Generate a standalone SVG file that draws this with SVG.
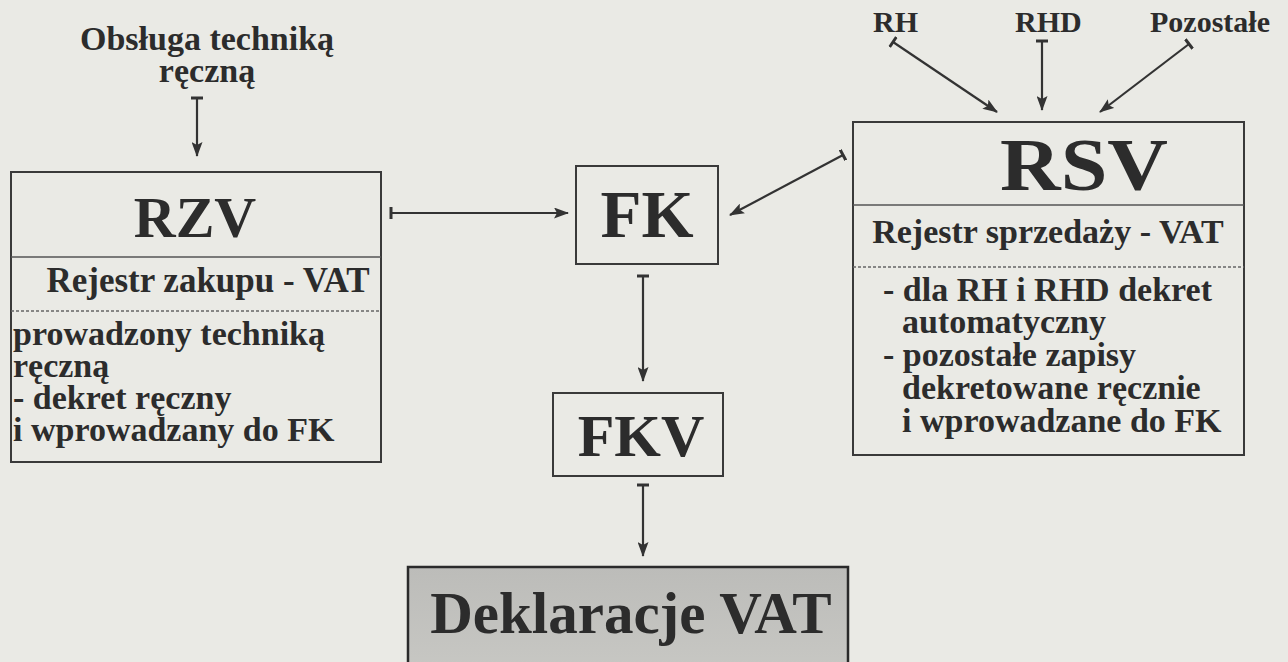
<svg xmlns="http://www.w3.org/2000/svg" width="1288" height="662" viewBox="0 0 1288 662">
<defs>
<marker id="ah" viewBox="0 0 15 11" refX="14" refY="5.5" markerWidth="15" markerHeight="11" markerUnits="userSpaceOnUse" orient="auto">
<path d="M0,0 L15,5.5 L0,11 L3,5.5 Z" fill="#333"/>
</marker>
<marker id="tk" viewBox="0 0 4 12" refX="2" refY="6" markerWidth="4" markerHeight="12" markerUnits="userSpaceOnUse" orient="auto">
<rect x="0.5" y="0" width="3" height="12" fill="#333"/>
</marker>
<linearGradient id="gd" x1="0" y1="0" x2="0" y2="1">
<stop offset="0" stop-color="#bcbcb9"/>
<stop offset="1" stop-color="#c8c8c4"/>
</linearGradient>
</defs>
<style>
text{font-family:"Liberation Serif","Times New Roman",serif;font-weight:bold;fill:#2c2c2c}
.box{fill:none;stroke:#3a3a3a;stroke-width:2}
.div{stroke:#555;stroke-width:1.5}
.dash{stroke:#666;stroke-width:1.5;stroke-dasharray:3 2}
.con{stroke:#333;stroke-width:2.2;fill:none;marker-start:url(#tk);marker-end:url(#ah)}
.t1{font-size:34px}
.top{font-size:30px}
.mid{text-anchor:middle}
</style>
<rect width="1288" height="662" fill="#eaeae5"/>

<g id="src-manual">
<text class="t1 mid" x="207" y="50">Obsługa techniką</text>
<text class="t1 mid" x="207" y="82">ręczną</text>
</g>
<g id="src-rh"><text class="top" x="873" y="32">RH</text></g>
<g id="src-rhd"><text class="top" x="1015" y="32">RHD</text></g>
<g id="src-poz"><text class="top" x="1150" y="32">Pozostałe</text></g>

<g id="rzv">
<rect class="box" x="11" y="172" width="370" height="290"/>
<line class="div" x1="11" y1="257" x2="381" y2="257"/>
<line class="dash" x1="11" y1="311" x2="381" y2="311"/>
<text class="mid" x="195" y="237" style="font-size:58px">RZV</text>
<text class="mid" x="208" y="292" style="font-size:35px">Rejestr zakupu - VAT</text>
<text class="t1" x="13" y="345">prowadzony techniką</text>
<text class="t1" x="13" y="377">ręczną</text>
<text class="t1" x="13" y="409">- dekret ręczny</text>
<text class="t1" x="13" y="441">i wprowadzany do FK</text>
</g>

<g id="fk">
<rect class="box" x="576" y="166" width="142" height="98"/>
<text class="mid" x="647" y="237" style="font-size:67px">FK</text>
</g>

<g id="rsv">
<rect class="box" x="853" y="122" width="391" height="333"/>
<line class="div" x1="853" y1="205" x2="1244" y2="205"/>
<line class="dash" x1="853" y1="267" x2="1244" y2="267"/>
<text class="mid" x="1084" y="190" style="font-size:74px" textLength="168" lengthAdjust="spacingAndGlyphs">RSV</text>
<text class="mid" x="1048" y="243" style="font-size:34px">Rejestr sprzedaży - VAT</text>
<text class="t1" x="883" y="301">- dla RH i RHD dekret</text>
<text class="t1" x="902" y="333">automatyczny</text>
<text class="t1" x="883" y="366">- pozostałe zapisy</text>
<text class="t1" x="902" y="399">dekretowane ręcznie</text>
<text class="t1" x="902" y="432">i wprowadzane do FK</text>
</g>

<g id="fkv">
<rect class="box" x="553" y="393" width="170" height="83"/>
<text class="mid" x="641" y="456" style="font-size:60px">FKV</text>
</g>

<g id="deklaracje">
<rect x="408" y="567" width="440" height="110" fill="url(#gd)" stroke="#2a2a2a" stroke-width="2.5"/>
<text class="mid" x="631" y="633" style="font-size:59px">Deklaracje VAT</text>
</g>

<g id="connectors">
<line class="con" x1="197" y1="98" x2="197" y2="156"/>
<line class="con" x1="391" y1="213" x2="568" y2="213"/>
<line class="con" x1="843" y1="155" x2="730" y2="215"/>
<line class="con" x1="893" y1="42" x2="997" y2="112"/>
<line class="con" x1="1042" y1="41" x2="1042" y2="110"/>
<line class="con" x1="1189" y1="44" x2="1100" y2="112"/>
<line class="con" x1="643" y1="276" x2="643" y2="381"/>
<line class="con" x1="643" y1="485" x2="643" y2="556"/>
</g>
</svg>
